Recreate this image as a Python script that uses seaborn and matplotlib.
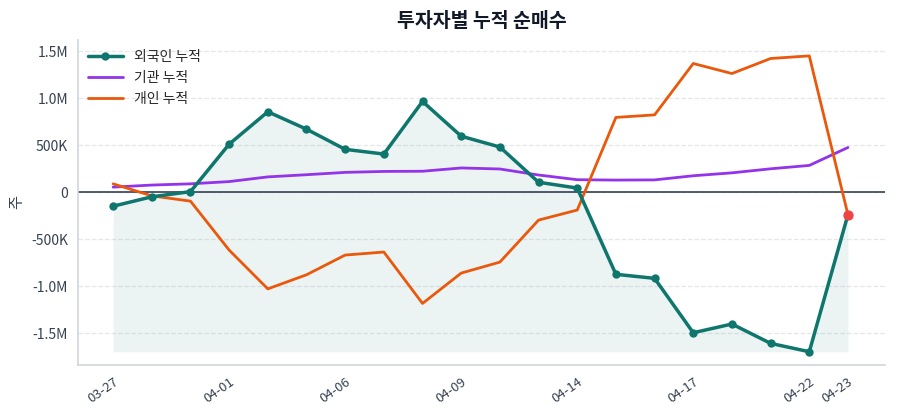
import matplotlib
matplotlib.use("Agg")
import matplotlib.pyplot as plt
import seaborn as sns
import numpy as np
import pandas as pd
from matplotlib.ticker import FuncFormatter

dates = ["03-27", "03-30", "03-31", "04-01", "04-02", "04-03", "04-06", "04-07", "04-08", "04-09",
         "04-10", "04-13", "04-14", "04-15", "04-16", "04-17", "04-20", "04-21", "04-22", "04-23"]
foreign = [-150e3, -50e3, 5e3, 510e3, 855e3, 670e3, 455e3, 405e3, 965e3, 595e3,
           480e3, 105e3, 43e3, -875e3, -918e3, -1497e3, -1404e3, -1610e3, -1699e3, -240e3]
institution = [53e3, 75e3, 88e3, 112e3, 162e3, 185e3, 210e3, 220e3, 222e3, 257e3,
               246e3, 182e3, 132e3, 128e3, 130e3, 174e3, 205e3, 248e3, 284e3, 475e3]
individual = [88e3, -40e3, -96e3, -617e3, -1030e3, -880e3, -670e3, -638e3, -1185e3, -862e3,
              -745e3, -298e3, -191e3, 795e3, 822e3, 1369e3, 1262e3, 1422e3, 1450e3, -240e3]
tick_idx = [0, 3, 6, 9, 12, 15, 18, 19]

sns.set_theme(style="white")
plt.rcParams['font.family'] = ['Noto Sans CJK KR', 'DejaVu Sans']
plt.rcParams['axes.unicode_minus'] = False

df = pd.DataFrame({"x": np.arange(len(dates)), "foreign": foreign,
                   "institution": institution, "individual": individual})

fig = plt.figure(figsize=(9, 4.2), dpi=100)
ax = fig.add_axes([0.087, 0.131, 0.896, 0.774])

c_for, c_ins, c_ind = "#0f766e", "#9333ea", "#ea580c"

ax.fill_between(df["x"], df["foreign"], min(foreign), color=c_for, alpha=0.08, linewidth=0)
sns.lineplot(data=df, x="x", y="foreign", ax=ax, color=c_for, lw=2.5, marker="o",
             markersize=6, markeredgewidth=0, label="외국인 누적", zorder=4)
sns.lineplot(data=df, x="x", y="institution", ax=ax, color=c_ins, lw=2, label="기관 누적", zorder=3)
sns.lineplot(data=df, x="x", y="individual", ax=ax, color=c_ind, lw=2, label="개인 누적", zorder=3)
ax.scatter([df["x"].iloc[-1]], [foreign[-1]], color="#ef4444", s=55, zorder=6, linewidths=0)

ax.axhline(0, color="#334155", lw=1.2, zorder=2)

ax.set_xlim(-0.9, 19.95)
ax.set_ylim(-1.84e6, 1.62e6)
ax.set_yticks([-1.5e6, -1e6, -5e5, 0, 5e5, 1e6, 1.5e6])

def fmt(v, pos):
    if v == 0:
        return "0"
    if abs(v) >= 1e6:
        return f"{v/1e6:.1f}M"
    return f"{v/1e3:.0f}K"
ax.yaxis.set_major_formatter(FuncFormatter(fmt))
ax.set_xticks(tick_idx)
ax.set_xticklabels([dates[i] for i in tick_idx], rotation=35, ha="right", rotation_mode="anchor")

ax.grid(axis="y", color="#e5e7eb", linestyle="--", lw=0.9)
ax.set_axisbelow(True)
for s in ["top", "right"]:
    ax.spines[s].set_visible(False)
for s in ["left", "bottom"]:
    ax.spines[s].set_color("#d1d5db")
    ax.spines[s].set_linewidth(1.2)
ax.tick_params(axis="both", colors="#4b5563", labelsize=10, length=4, width=1, direction="out",
               labelcolor="#374151")
ax.tick_params(axis="x", labelsize=9.5)
ax.set_xlabel("")
ax.set_ylabel("주", fontsize=11, color="#374151")

ax.set_title("투자자별 누적 순매수", fontsize=14, fontweight="bold", color="#111827", pad=9)
leg = ax.legend(loc="upper left", frameon=False, fontsize=10, handlelength=2.5,
                borderaxespad=0.3, bbox_to_anchor=(0.0, 1.0))

fig.savefig("out.png", dpi=100)
